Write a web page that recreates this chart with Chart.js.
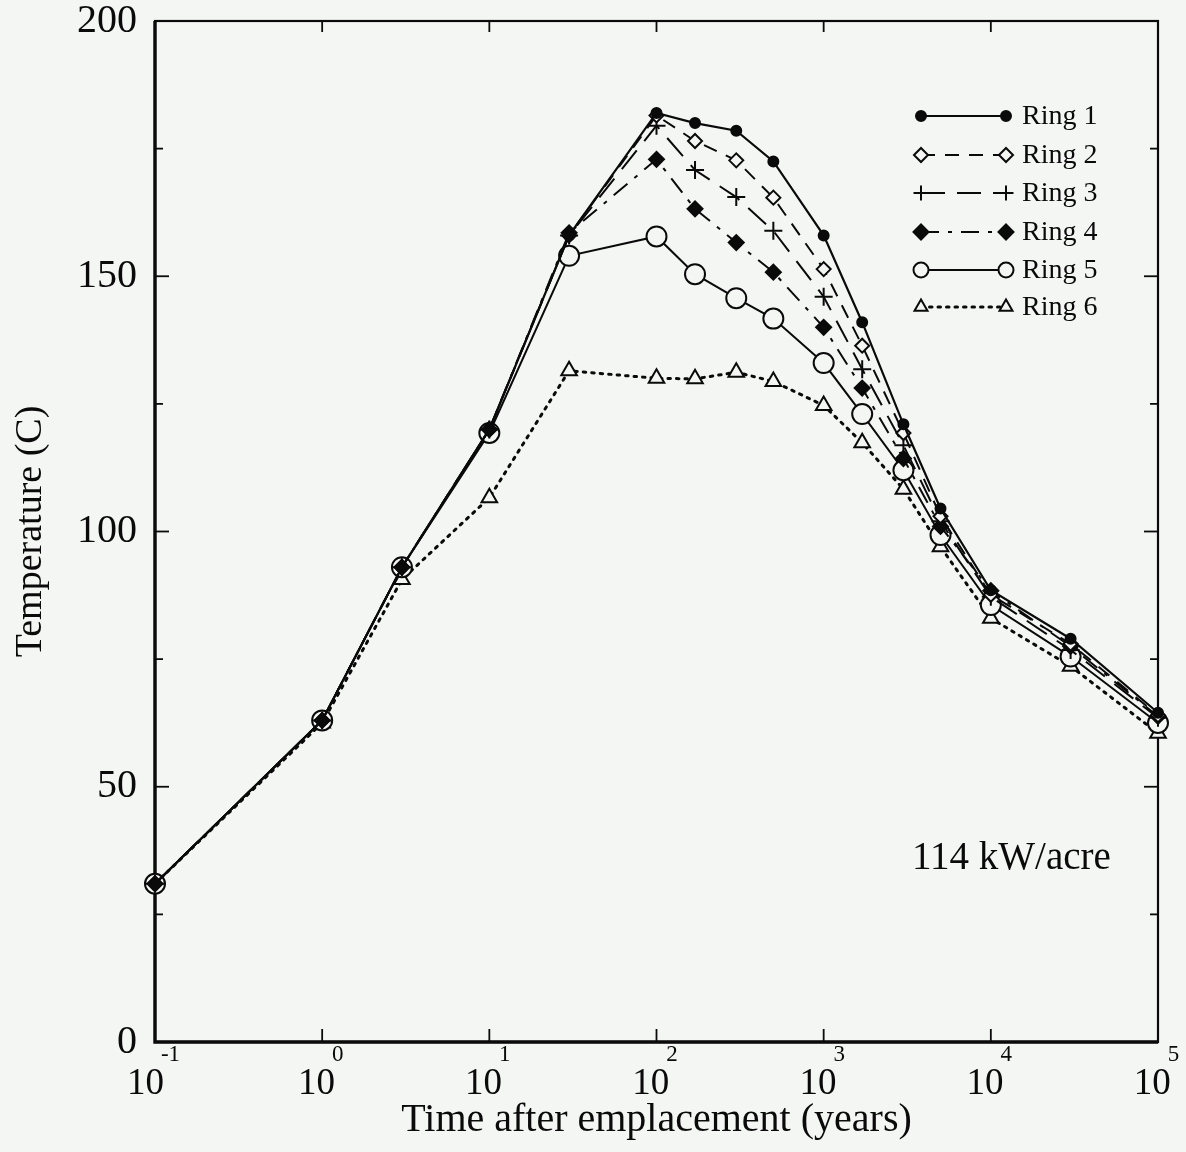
<!DOCTYPE html>
<html><head><meta charset="utf-8">
<script src="https://cdn.jsdelivr.net/npm/chart.js@4/dist/chart.umd.min.js"></script>
<style>
html,body{margin:0;padding:0;background:#f4f6f4;}
#wrap{width:1186px;height:1152px;position:relative;}
canvas{display:block;}
</style></head><body>
<div id="wrap"><canvas id="c" width="1186" height="1152"></canvas></div>
<script>
// ---- data ----
const times = [0.1, 1, 3, 10, 30, 100, 170, 300, 500, 1000, 1700, 3000, 5000, 10000, 30000, 100000];
const ring1 = [31, 63, 93, 120, 158, 182, 180, 178.5, 172.5, 158, 141, 121, 104.5, 88.5, 79, 64.5];
const ring2 = [31, 63, 93, 120, 158, 181.5, 176.5, 172.7, 165.4, 151.4, 136.4, 119.3, 103, 87.6, 78, 64];
const ring3 = [31, 63, 93, 120, 158, 179.5, 170.8, 165.5, 158.9, 146, 131.8, 116.9, 102, 87.2, 76.8, 63.5];
const ring4 = [31, 63, 93, 120, 158.5, 172.9, 163.2, 156.6, 150.8, 140, 128.1, 114.3, 101, 88.4, 77.5, 63.8];
const ring5 = [31, 63, 93, 119.3, 154, 157.8, 150.4, 145.7, 141.7, 133, 123, 112, 99.3, 85.6, 75.5, 62.5];
const ring6 = [31, 62.5, 90.6, 106.6, 131.5, 130, 129.9, 131.2, 129.4, 124.7, 117.4, 108.3, 97, 83, 73.6, 60.5];
const seriesNames = ['Ring 1', 'Ring 2', 'Ring 3', 'Ring 4', 'Ring 5', 'Ring 6'];
const yTickValues = [0, 50, 100, 150, 200];
const xDecades = [-1, 0, 1, 2, 3, 4, 5];
const xTitle = 'Time after emplacement (years)';
const yTitle = 'Temperature (C)';
const annotationText = '114 kW/acre';

// ---- styles ----
const BG = '#f4f6f4';
const INK = '#0a0a0a';
const FONT = "'Liberation Serif', 'DejaVu Serif', serif";
const seriesValues = [ring1, ring2, ring3, ring4, ring5, ring6];
const styles = [
  {dash: [], pointStyle: 'circle', radius: 5, fill: INK, width: 2.2},
  {dash: [14, 10], pointStyle: 'rectRot', radius: 7, fill: BG, width: 2},
  {dash: [24, 12], pointStyle: 'cross', radius: 9, fill: BG, width: 2},
  {dash: [18, 9, 4, 9], pointStyle: 'rectRot', radius: 7.5, fill: INK, width: 2},
  {dash: [], pointStyle: 'circle', radius: 10, fill: BG, width: 2},
  {dash: [2.5, 6], pointStyle: 'triangle', radius: 9, fill: BG, width: 3}
];

const datasets = seriesNames.map((name, i) => ({
  label: name,
  data: times.map((t, j) => ({x: t, y: seriesValues[i][j]})),
  borderColor: INK,
  borderWidth: styles[i].width,
  borderDash: styles[i].dash,
  borderCapStyle: i === 5 ? 'round' : 'butt',
  pointStyle: styles[i].pointStyle,
  pointRadius: styles[i].radius,
  pointBackgroundColor: styles[i].fill,
  pointBorderColor: INK,
  pointBorderWidth: 2,
  tension: 0,
  clip: false
}));

function line(ctx, x1, y1, x2, y2) { ctx.beginPath(); ctx.moveTo(x1, y1); ctx.lineTo(x2, y2); ctx.stroke(); }

const frame = {
  id: 'frame',
  beforeDatasetsDraw(chart) {
    const {ctx, chartArea: a, scales: {x, y}} = chart;
    ctx.save();
    ctx.strokeStyle = INK;
    ctx.lineWidth = 2.2;
    ctx.strokeRect(a.left, a.top, a.right - a.left, a.bottom - a.top);
    ctx.lineWidth = 3.4;
    ctx.beginPath(); ctx.moveTo(a.left, a.top); ctx.lineTo(a.left, a.bottom); ctx.lineTo(a.right, a.bottom); ctx.stroke();
    ctx.lineWidth = 1.8;
    for (let v = 25; v < 200; v += 25) {
      const py = y.getPixelForValue(v);
      const L = v % 50 === 0 ? 14 : 8;
      line(ctx, a.left, py, a.left + L, py);
      line(ctx, a.right - L, py, a.right, py);
    }
    for (const e of xDecades.slice(1, -1)) {
      const px = x.getPixelForValue(Math.pow(10, e));
      line(ctx, px, a.bottom, px, a.bottom - 13);
      line(ctx, px, a.top, px, a.top + 11);
    }
    ctx.restore();
  },
  afterDraw(chart) {
    const {ctx, scales: {x}} = chart;
    ctx.save();
    ctx.fillStyle = INK;
    ctx.textBaseline = 'alphabetic';
    ctx.textAlign = 'left';
    // x tick labels 10^n
    for (const e of xDecades) {
      const px = x.getPixelForValue(Math.pow(10, e));
      ctx.font = '37px ' + FONT;
      const base = '10';
      const wb = ctx.measureText(base).width;
      ctx.font = '23px ' + FONT;
      const ex = String(e);
      const we = ctx.measureText(ex).width;
      const start = px - (wb + we) / 2;
      ctx.font = '37px ' + FONT;
      ctx.fillText(base, start, 1094);
      ctx.font = '23px ' + FONT;
      ctx.fillText(ex, start + wb - 3, 1061);
    }
    // legend
    const rowsY = [116, 155, 193, 232, 270, 307];
    const x0 = 921, x1 = 1006, tx = 1022;
    chart.data.datasets.forEach((ds, i) => {
      const yy = rowsY[i];
      ctx.save();
      ctx.strokeStyle = INK;
      ctx.lineWidth = ds.borderWidth;
      ctx.lineCap = ds.borderCapStyle;
      ctx.setLineDash(ds.borderDash);
      line(ctx, x0, yy, x1, yy);
      ctx.restore();
      for (const px of [x0, x1]) {
        ctx.save();
        ctx.fillStyle = ds.pointBackgroundColor;
        ctx.strokeStyle = INK;
        ctx.lineWidth = 2;
        Chart.helpers.drawPoint(ctx, {pointStyle: ds.pointStyle, radius: Math.min(ds.pointRadius, 7.5), rotation: 0, borderWidth: 2}, px, yy);
        ctx.restore();
      }
      ctx.font = '28px ' + FONT;
      ctx.textBaseline = 'middle';
      ctx.fillStyle = INK;
      ctx.fillText(ds.label, tx, yy + 1);
    });
    // annotation
    ctx.font = '39px ' + FONT;
    ctx.textBaseline = 'middle';
    ctx.fillText(annotationText, 912, 859);
    ctx.restore();
  }
};

new Chart(document.getElementById('c'), {
  type: 'line',
  data: {datasets},
  options: {
    responsive: false,
    devicePixelRatio: 1,
    animation: false,
    layout: {padding: {top: 21, right: 28, left: 0, bottom: 0}},
    plugins: {legend: {display: false}, tooltip: {enabled: false}},
    scales: {
      x: {
        type: 'logarithmic',
        min: 0.1, max: 100000,
        grid: {display: false},
        border: {display: false},
        ticks: {display: false},
        afterBuildTicks: s => { s.ticks = xDecades.map(e => ({value: Math.pow(10, e)})); },
        afterFit: s => { s.height = 1152 - 1042; s.paddingLeft = 0; s.paddingRight = 0; },
        title: {display: true, text: xTitle, color: INK, font: {family: FONT, size: 40}, padding: {top: 0, bottom: 8}}
      },
      y: {
        type: 'linear',
        min: 0, max: 200,
        grid: {display: false, drawTicks: false},
        border: {display: false},
        afterBuildTicks: s => { s.ticks = yTickValues.map(v => ({value: v})); },
        ticks: {color: INK, font: {family: FONT, size: 40, lineHeight: 1}, padding: 18},
        afterFit: s => { s.width = 155; s.paddingTop = 0; s.paddingBottom = 0; },
        title: {display: true, text: yTitle, color: INK, font: {family: FONT, size: 38}, padding: {top: 8, bottom: 0}}
      }
    }
  },
  plugins: [frame]
});
</script>
</body></html>
